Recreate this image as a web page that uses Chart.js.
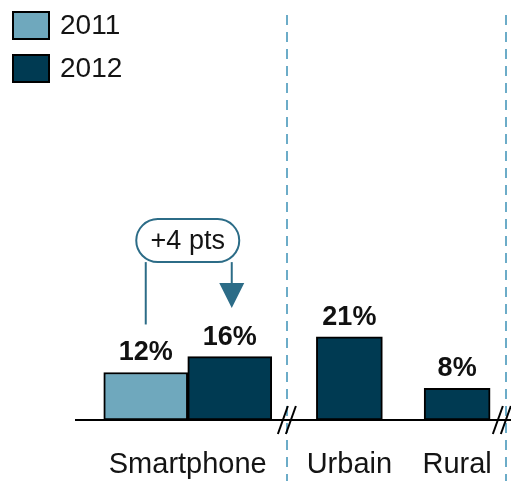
<!DOCTYPE html>
<html>
<head>
<meta charset="utf-8">
<script src="https://cdn.jsdelivr.net/npm/chart.js@4.4.1/dist/chart.umd.min.js"></script>
<style>
  html, body { margin: 0; padding: 0; background: #ffffff; overflow: hidden; }
  #wrap { position: relative; width: 511px; height: 481px; overflow: hidden; }
  canvas { display: block; }
</style>
</head>
<body>
<div id="wrap"><canvas id="chart" width="511" height="510"></canvas></div>
<script>
// ---------- DATA ----------
const categories = ['Smartphone', 'Urbain', 'Rural'];
const seriesNames = ['2011', '2012'];
const values2011 = [12, null, null];
const values2012 = [16, 21, 8];
const annotationText = '+4 pts';

// ---------- LAYOUT / STYLE ----------
const FONT = "'Liberation Sans', Arial, Helvetica, sans-serif";
const COLOR_2011 = '#6fa8bd';
const COLOR_2012 = '#003a52';
const ACCENT = '#2c6c87';
const DASH_COLOR = '#6cacc8';
const TEXT = '#141414';
// category slots on the axis (blank slots keep the panels apart)
const slotCount = 9;
const slotOfCategory = [2, 5, 7];

function toSlots(vals) {
  const out = new Array(slotCount).fill(null);
  vals.forEach((v, i) => { out[slotOfCategory[i]] = v; });
  return out;
}
const axisLabels = toSlots(categories).map(v => v === null ? '' : v);

const datasets = [
  {
    label: seriesNames[0],
    data: toSlots(values2011),
    backgroundColor: COLOR_2011,
    barThickness: 84
  },
  {
    label: seriesNames[1],
    data: toSlots(values2012.map((v, i) => i === 0 ? v : null)),
    backgroundColor: COLOR_2012,
    barThickness: 84
  },
  {
    label: seriesNames[1],
    data: toSlots(values2012.map((v, i) => i > 0 ? v : null)),
    backgroundColor: COLOR_2012,
    barThickness: 66,
    hideInLegend: true
  }
].map(d => Object.assign({
  borderColor: '#000000',
  borderWidth: 2,
  borderSkipped: false,
  skipNull: true
}, d));

const decorPlugin = {
  id: 'decor',
  beforeDatasetsDraw(chart) {
    const ctx = chart.ctx;
    const xs = chart.scales.x;
    ctx.save();
    ctx.strokeStyle = DASH_COLOR;
    ctx.lineWidth = 2;
    ctx.setLineDash([10, 7]);
    [3.85, 7.9].forEach(s => {
      const x = Math.round(xs.getPixelForValue(s));
      ctx.beginPath();
      ctx.moveTo(x, 15);
      ctx.lineTo(x, chart.height);
      ctx.stroke();
    });
    ctx.restore();
  },
  afterDatasetsDraw(chart) {
    const ctx = chart.ctx;
    const xs = chart.scales.x;
    const ys = chart.scales.y;
    const y0 = ys.getPixelForValue(0);
    ctx.save();
    // baseline
    ctx.strokeStyle = '#000000';
    ctx.lineWidth = 2;
    ctx.beginPath();
    ctx.moveTo(chart.chartArea.left - 5, y0);
    ctx.lineTo(chart.width, y0);
    ctx.stroke();
    // axis break marks
    [3.84, 7.83].forEach(s => {
      const cx = xs.getPixelForValue(s);
      [-4, 4].forEach(dx => {
        ctx.beginPath();
        ctx.moveTo(cx + dx - 5, y0 + 14);
        ctx.lineTo(cx + dx + 5, y0 - 14);
        ctx.stroke();
      });
    });
    // value labels
    ctx.fillStyle = '#111111';
    ctx.font = "bold 27px " + FONT;
    ctx.textAlign = 'center';
    ctx.textBaseline = 'alphabetic';
    chart.data.datasets.forEach((ds, di) => {
      const meta = chart.getDatasetMeta(di);
      meta.data.forEach((bar, i) => {
        const v = ds.data[i];
        if (v === null || v === undefined) return;
        ctx.fillText(v + '%', bar.x, bar.y - 12);
      });
    });
    // annotation "+4 pts"
    const slot = slotOfCategory[0];
    const b11 = chart.getDatasetMeta(0).data[slot];
    const b12 = chart.getDatasetMeta(1).data[slot];
    const tipY = b12.y - 48.5;
    const baseY = tipY - 25;
    const pillBottom = tipY - 46;
    const pillH = 43, pillW = 103;
    const pillTop = pillBottom - pillH;
    const pcx = xs.getPixelForValue(slot);
    const arrowX = b12.x + 2;
    ctx.strokeStyle = ACCENT;
    ctx.fillStyle = ACCENT;
    ctx.lineWidth = 2;
    ctx.beginPath();
    ctx.moveTo(b11.x, pillBottom);
    ctx.lineTo(b11.x, b11.y - 48);
    ctx.stroke();
    ctx.beginPath();
    ctx.moveTo(arrowX, pillBottom);
    ctx.lineTo(arrowX, baseY);
    ctx.stroke();
    ctx.beginPath();
    ctx.moveTo(arrowX - 12.5, baseY);
    ctx.lineTo(arrowX + 12.5, baseY);
    ctx.lineTo(arrowX, tipY);
    ctx.closePath();
    ctx.fill();
    const r = pillH / 2;
    ctx.beginPath();
    ctx.moveTo(pcx - pillW / 2 + r, pillTop);
    ctx.lineTo(pcx + pillW / 2 - r, pillTop);
    ctx.arc(pcx + pillW / 2 - r, pillTop + r, r, -Math.PI / 2, Math.PI / 2);
    ctx.lineTo(pcx - pillW / 2 + r, pillBottom);
    ctx.arc(pcx - pillW / 2 + r, pillTop + r, r, Math.PI / 2, Math.PI * 1.5);
    ctx.closePath();
    ctx.fillStyle = '#ffffff';
    ctx.fill();
    ctx.stroke();
    ctx.fillStyle = TEXT;
    ctx.font = "27px " + FONT;
    ctx.textBaseline = 'middle';
    ctx.fillText(annotationText, pcx, pillTop + r + 1);
    ctx.restore();
  },
  afterDraw(chart) {
    // legend (one entry per series, built from the datasets)
    const ctx = chart.ctx;
    ctx.save();
    ctx.font = "28px " + FONT;
    ctx.textAlign = 'left';
    ctx.textBaseline = 'middle';
    ctx.lineWidth = 2;
    ctx.strokeStyle = '#000000';
    let row = 0;
    chart.data.datasets.forEach(ds => {
      if (ds.hideInLegend) return;
      const top = 12 + row * 43;
      ctx.fillStyle = ds.backgroundColor;
      ctx.fillRect(13, top, 36, 27);
      ctx.strokeRect(13, top, 36, 27);
      ctx.fillStyle = TEXT;
      ctx.fillText(ds.label, 60, top + 14.5);
      row++;
    });
    ctx.restore();
  }
};

new Chart(document.getElementById('chart'), {
  type: 'bar',
  data: { labels: axisLabels, datasets: datasets },
  plugins: [decorPlugin],
  options: {
    responsive: false,
    animation: false,
    devicePixelRatio: 1,
    layout: { padding: { left: 80, right: 0, top: 0, bottom: 0 } },
    plugins: {
      tooltip: { enabled: false },
      legend: { display: false }
    },
    scales: {
      x: {
        offset: false,
        grid: { display: false, drawTicks: false },
        border: { display: false },
        ticks: {
          autoSkip: false,
          maxRotation: 0,
          padding: 0,
          color: TEXT,
          font: { family: FONT, size: 29, lineHeight: 3.103 }
        }
      },
      y: { display: false, min: 0, max: 106 }
    }
  }
});
</script>
</body>
</html>
